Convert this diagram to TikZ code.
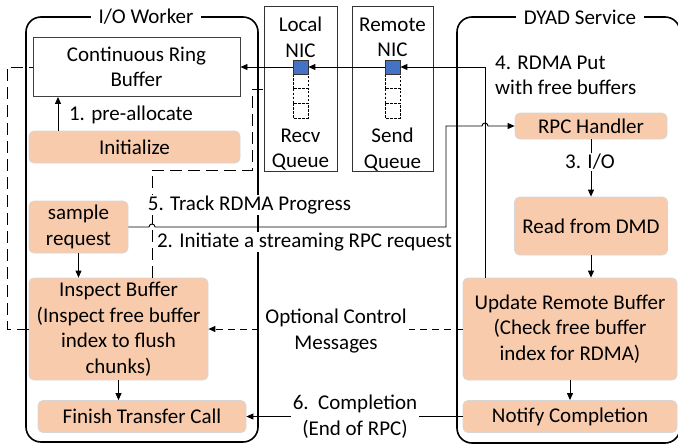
\documentclass[tikz,border=0pt]{standalone}
\usepackage{fontspec}
\setmainfont{Carlito}
\usetikzlibrary{arrows.meta}
\definecolor{procfill}{HTML}{F8CBAD}
\definecolor{procedge}{HTML}{D6D6D6}
\definecolor{qblue}{HTML}{4472C4}
\tikzset{
  every node/.style={font=\fontsize{21}{25.5}\selectfont},
  container/.style={draw=black, line width=1.6pt, rounded corners=15pt},
  title/.style={fill=white, inner xsep=8pt, inner ysep=1pt},
  proc/.style={draw=procedge, line width=0.8pt, fill=procfill, rounded corners=5pt,
    align=center, inner sep=0pt},
  nicbox/.style={draw=black!80, line width=0.9pt, inner sep=0pt},
  slot/.style={draw=black, line width=0.8pt, dash pattern=on 2.5pt off 1.5pt},
  link/.style={draw=black, line width=0.9pt},
  arr/.style={link, -{Triangle[length=7pt,width=6pt]}},
  longdash/.style={dash pattern=on 12pt off 6pt},
  shortdash/.style={dash pattern=on 7pt off 5pt},
  lbl/.style={fill=white, inner xsep=2pt, inner ysep=1pt, align=center},
}
\begin{document}
\begin{tikzpicture}[x=1pt, y=-1pt]
\useasboundingbox (0,0) rectangle (678,445);

% containers
\draw[container] (26,17) rectangle (258,442);
\draw[container] (457,17) rectangle (680,443);
\node[title] (tworker) at (146,17) {I/O Worker};
\node[title] (tdyad) at (580,17) {DYAD Service};

% NIC boxes
\node[nicbox, minimum width=73pt, minimum height=165pt] (lnic) at (300.5,88.5) {};
\node[nicbox, minimum width=81pt, minimum height=165pt] (rnic) at (392.5,88.5) {};
\node[align=center] (lnict) at (300.5,37.5) {Local\\NIC};
\node[align=center] (lnicq) at (300.5,149.5) {Recv\\Queue};
\node[align=center] (rnict) at (392.5,37.5) {Remote\\NIC};
\node[align=center] (rnicq) at (392.5,149.5) {Send\\Queue};

% queue slots
\foreach \cx/\nm in {300.5/l, 392.5/r}{
  \foreach \k in {0,1,2}{
    \draw[slot] (\cx-7.5, 74+\k*14.67) rectangle (\cx+7.5, 74+\k*14.67+14.67);
  }
}
\node[draw=black!80, line width=0.8pt, fill=qblue, minimum width=15pt, minimum height=14pt, inner sep=0pt] (lq) at (300.5,67) {};
\node[draw=black!80, line width=0.8pt, fill=qblue, minimum width=15pt, minimum height=14pt, inner sep=0pt] (rq) at (392.5,67) {};

% I/O Worker boxes
\node[draw=black!75, line width=0.9pt, minimum width=207pt, minimum height=59pt, align=center, inner sep=0pt] (ring) at (136.5,67) {Continuous Ring\\Buffer};
\node[proc, minimum width=211pt, minimum height=32pt] (init) at (134.5,147) {Initialize};
\node[proc, minimum width=99pt, minimum height=52pt] (sample) at (78.5,227) {sample\\request};
\node[proc, minimum width=179pt, minimum height=102pt] (inspect) at (118.5,329) {Inspect Buffer\\(Inspect free buffer\\index to flush\\chunks)};
\node[proc, minimum width=208pt, minimum height=32pt] (finish) at (142,416.5) {Finish Transfer Call};

% DYAD Service boxes
\node[proc, minimum width=152pt, minimum height=26pt] (rpc) at (591,126) {RPC Handler};
\node[proc, minimum width=153pt, minimum height=58pt] (read) at (591,226) {Read from DMD};
\node[proc, minimum width=214pt, minimum height=102pt] (update) at (570,329) {Update Remote Buffer\\(Check free buffer\\index for RDMA)};
\node[proc, minimum width=214pt, minimum height=32pt] (notify) at (570,416.5) {Notify Completion};

% dashed inspection links
\draw[link, longdash] (inspect.west) -- (7,329) |- (ring.west);
\draw[link, longdash] (152,0 |- inspect.north) -- (152,170) -- (252,170) -- (252,89) -- (0,89 -| lnic.west);

% RDMA put path
\draw[arr] (485,0 |- update.north) |- (rq.east);
\draw[arr] (rq.west) -- (lq.east);
\draw[arr] (lq.west) -- (ring.east);

% streaming RPC request (with line jumps)
\draw[arr] (sample.east) -- (149,227) arc[start angle=180, end angle=0, radius=3pt]
  -- (446,227) -- (446,126) -- (482,126) arc[start angle=180, end angle=0, radius=3pt]
  -- (rpc.west);

% local flow arrows
\draw[arr] (58,0 |- init.north) -- (58,0 |- ring.south);
\draw[arr] (sample.south) -- (sample.south |- inspect.north);
\draw[arr] (inspect.south) -- (inspect.south |- finish.north);
\draw[arr] (rpc.south) -- (read.north);
\draw[arr] (read.south) -- (read.south |- update.north);
\draw[arr] (update.south) -- (notify.north);

% cross-process messages
\draw[arr, shortdash] (update.west) -- (inspect.east);
\draw[arr] (notify.west) -- (finish.east);

% labels
\node (lpre) at (131,115) {1. pre-allocate};
\node[lbl] (ltrack) at (249.5,205) {5. Track RDMA Progress};
\node[lbl] (lreq) at (304.5,242) {2. Initiate a streaming RPC request};
\node[lbl] (lio) at (590,162) {3. I/O};
\node[align=left, anchor=west, inner sep=0pt] (lput) at (495,75.5) {4. RDMA Put\\with free buffers};
\node[lbl] (lopt) at (336,331) {Optional Control\\Messages};
\node[lbl] (lcomp) at (355,416.5) {6.\ \ Completion\\(End of RPC)};
\end{tikzpicture}
\end{document}
